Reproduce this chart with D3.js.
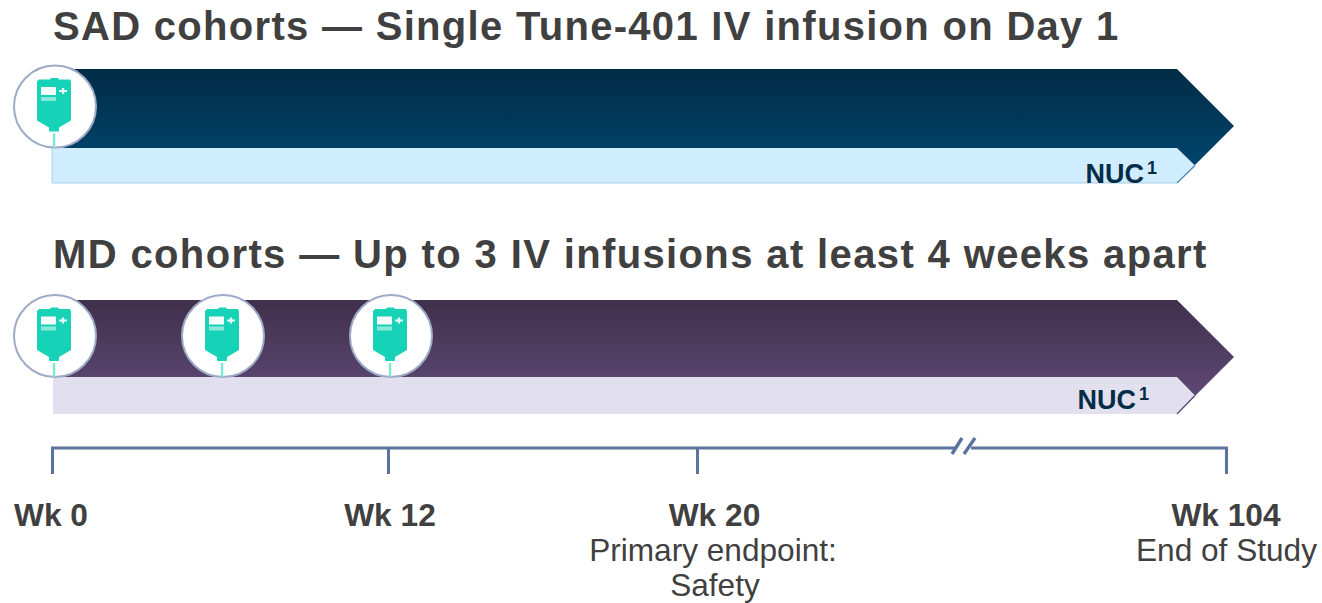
<!DOCTYPE html>
<html><head><meta charset="utf-8">
<script src="https://cdn.jsdelivr.net/npm/d3@7"></script>
<style>html,body{margin:0;padding:0;background:#fff;overflow:hidden}svg{display:block}text{font-family:"Liberation Sans",Arial,sans-serif}</style>
</head><body><svg id="c" width="1322" height="603"></svg>
<script>
const tickWeeks = [0, 12, 20, 104];
const tickLabels = ["Wk 0", "Wk 12", "Wk 20", "Wk 104"];
const tickNotes = [[], [], ["Primary endpoint:", "Safety"], ["End of Study"]];
const sadTitle = "SAD cohorts — Single Tune-401 IV infusion on Day 1";
const mdTitle = "MD cohorts — Up to 3 IV infusions at least 4 weeks apart";
const sadInfusionWeeks = [0];
const mdInfusionWeeks = [0, 6, 12];
const nucLabel = "NUC";

const svg = d3.select("#c");
const x = d3.scaleLinear().domain(tickWeeks).range([52.5, 388.5, 697.5, 1226.5]);
const defs = svg.append("defs");
function grad(id, a, b){
  const g = defs.append("linearGradient").attr("id", id).attr("x1",0).attr("x2",0).attr("y1",0).attr("y2",1);
  g.append("stop").attr("offset","0%").attr("stop-color",a);
  g.append("stop").attr("offset","100%").attr("stop-color",b);
}
grad("gSad","#022b45","#004a75");
grad("gMd","#40304c","#634d7c");
defs.append("filter").attr("id","soft").append("feGaussianBlur").attr("stdDeviation",0.55);

const line = d3.line();
function arrow(cfg){
  const {left,top,y2,fill,nucTop,nucBot,nucFill,edge,nucX,nucBase} = cfg;
  const shoulder = 1177, tip = 1234, mid = (top+y2)/2;
  svg.append("path").attr("d", line([[left,top],[shoulder,top],[tip,mid],[shoulder,y2],[left,y2]])+"Z").attr("fill",fill);
  const nm = (nucTop+nucBot)/2;
  svg.append("path").attr("d", line([[left,nucTop],[shoulder,nucTop],[1195,nm],[shoulder,nucBot],[left,nucBot]])+"Z").attr("fill",nucFill);
  svg.append("path").attr("d", line([[1195,nm],[shoulder,nucBot]])).attr("stroke",edge).attr("stroke-width",1.2).attr("fill","none");
  if(cfg.outline) svg.append("path").attr("d", line([[shoulder,nucBot],[left,nucBot],[left,nucTop]])).attr("stroke",cfg.outline).attr("stroke-width",1).attr("fill","none");
  const t = svg.append("text").attr("x",nucX).attr("y",nucBase).attr("font-size",27).attr("font-weight",700).attr("fill","#032c47");
  t.append("tspan").text(nucLabel);
  t.append("tspan").attr("font-size",18).attr("dy",-9).attr("dx",3).text("1");
}
arrow({left:52,top:69,y2:183,fill:"url(#gSad)",nucTop:148,nucBot:183,nucFill:"#d0ecff",edge:"#4f86ad",outline:"#a9cde6",nucX:1085.5,nucBase:182.5});
arrow({left:53,top:300,y2:414,fill:"url(#gMd)",nucTop:377,nucBot:414,nucFill:"#e2e0ee",edge:"#5b4673",outline:null,nucX:1077.5,nucBase:408.5});

function title(txt,y,ls){
  svg.append("text").attr("x",53).attr("y",y).attr("font-size",40).attr("font-weight",700)
    .attr("letter-spacing",ls).attr("fill","#404040").text(txt);
}
title(sadTitle,40,1.3);
title(mdTitle,268,1.37);

function bag(cx,cy){
  const g = svg.append("g").attr("transform",`translate(${cx},${cy})`);
  g.append("circle").attr("r",41).attr("fill","#fff").attr("stroke","#9dabc6").attr("stroke-width",2);
  const b = g.append("g").attr("filter","url(#soft)");
  b.append("path").attr("d",line([[-16,-27],[-5,-27],[-4,-28.5],[3,-28.5],[4,-27],[15,-27],[16,-25],[16,14],[4,21],[4,25],[-6,25],[-6,21],[-18,14],[-18,-25]])+"Z").attr("fill","#19d3b7");
  b.append("rect").attr("x",-14).attr("y",-19.5).attr("width",15).attr("height",8).attr("fill","#f4fdfb");
  b.append("rect").attr("x",-14).attr("y",-9.5).attr("width",15).attr("height",4).attr("fill","#8be8da");
  b.append("path").attr("d","M4 -15.5H12M8 -18.5V-12.5").attr("stroke","#e8fbf8").attr("stroke-width",2.2).attr("fill","none");
  b.append("line").attr("x1",-1).attr("x2",-1).attr("y1",27).attr("y2",41).attr("stroke","#7fe6d6").attr("stroke-width",2.4);
}
sadInfusionWeeks.forEach(w=>bag(x(w)+2.5,106.5));
mdInfusionWeeks.forEach(w=>bag(x(w)+2.5,336));

const axisColor = "#5c749d", ay = 448;
svg.append("path").attr("d",line([[x(0),ay+26],[x(0),ay],[955,ay]])).attr("fill","none").attr("stroke",axisColor).attr("stroke-width",3);
svg.append("path").attr("d",line([[971,ay],[x(104),ay],[x(104),ay+26]])).attr("fill","none").attr("stroke",axisColor).attr("stroke-width",3);
svg.append("path").attr("d","M952 454L962 438M964 454L975 438").attr("stroke",axisColor).attr("stroke-width",3.4).attr("fill","none");
tickWeeks.slice(1,3).forEach(w=>svg.append("line").attr("x1",x(w)).attr("x2",x(w)).attr("y1",ay).attr("y2",ay+26).attr("stroke",axisColor).attr("stroke-width",3));

const labelX = [51, 390, 714.5, 1226];
tickLabels.forEach((l,i)=>{
  svg.append("text").attr("x",labelX[i]).attr("y",526).attr("text-anchor","middle").attr("font-size",31.7).attr("font-weight",700).attr("fill","#404040").text(l);
  tickNotes[i].forEach((n,j)=>svg.append("text").attr("x",i===2?(j?715:713):1226.5).attr("y",561+j*35).attr("text-anchor","middle").attr("font-size",31.6).attr("fill","#404040").text(n));
});
</script></body></html>
